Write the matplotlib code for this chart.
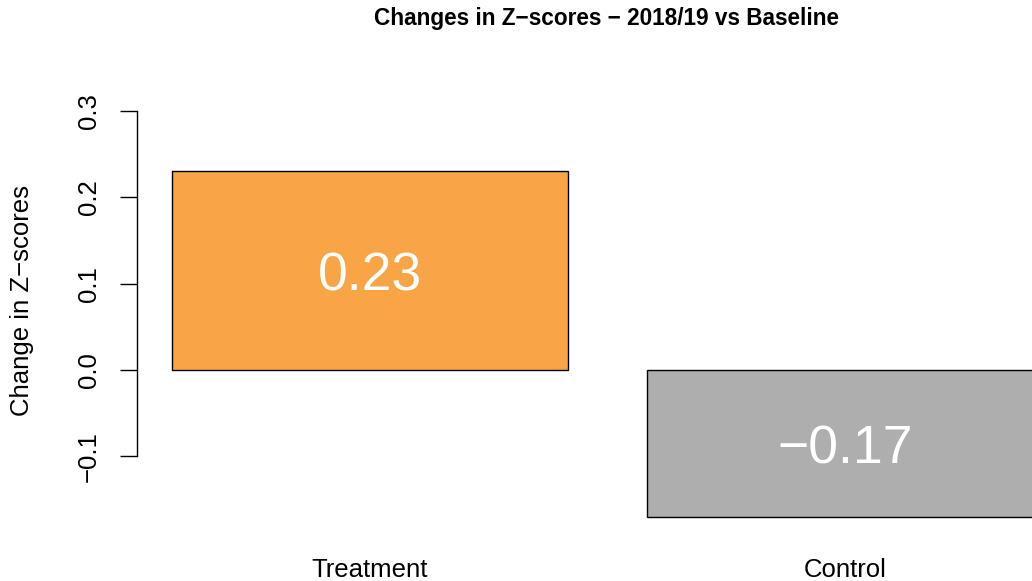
import numpy as np
import matplotlib
matplotlib.use("Agg")
import matplotlib.pyplot as plt
import matplotlib.transforms as mtransforms

# data
groups = ["Treatment", "Control"]
changes = [0.23, -0.17]
bar_colors = ["#F7A546", "#AEAEAE"]
yticks = [-0.1, 0.0, 0.1, 0.2, 0.3]

plt.rcParams['font.family'] = ['Liberation Sans', 'DejaVu Sans']

W, H = 1032, 581
fig = plt.figure(figsize=(W / 100, H / 100), dpi=100)

# plot region in pixels (R style: extends past the right edge)
px_left, px_right = 137, 1078
px_top, px_bot = 70, 540
ax = fig.add_axes([px_left / W, 1 - px_bot / H,
                   (px_right - px_left) / W, (px_bot - px_top) / H])
ax.patch.set_visible(False)

# bar positions like R barplot: width 1, space 0.2
pos = np.array([0.2 + 0.5 + i * 1.2 for i in range(len(groups))])
ax.bar(pos, changes, width=1.0, color=bar_colors, edgecolor="black",
       linewidth=1.0, clip_on=False)

# value labels, nudged down so the digits sit at the bar middle
nudge = ax.transData + mtransforms.ScaledTranslation(0, -6 / 100, fig.dpi_scale_trans)
for x, v in zip(pos, changes):
    ax.text(x, v / 2, f"{v:.2f}".replace("-", "\u2212"), color="white",
            fontsize=38.5, ha="center", va="center", transform=nudge)

ax.set_xlim(0.112, 2.488)
ax.set_ylim((370 - px_bot) / 863.3, (370 - px_top) / 863.3)

for s in ["top", "right", "bottom"]:
    ax.spines[s].set_visible(False)
ax.spines["left"].set_bounds(yticks[0], yticks[-1])
ax.spines["left"].set_linewidth(1.0)
ax.set_yticks(yticks)
ax.set_yticklabels([f"{t:.1f}".replace("-", "\u2212") for t in yticks],
                   rotation=90, va="center", fontsize=18.5)
ax.tick_params(axis="y", length=12.2, width=1.0, pad=14)
ax.set_xticks([])

# category labels below the bars
lab_tr = mtransforms.blended_transform_factory(ax.transData, fig.transFigure)
for x, g in zip(pos, groups):
    ax.text(x, 1 - 570 / H, g, transform=lab_tr, fontsize=18.5,
            ha="center", va="center")

fig.text(22 / W, 1 - 300 / H, "Change in Z\u2212scores", rotation=90,
         fontsize=18.5, ha="center", va="center")
fig.text(607 / W, 1 - 19 / H,
         "Changes in Z\u2212scores \u2212 2018/19 vs Baseline",
         fontsize=16.3, fontweight="bold", ha="center", va="center")

fig.savefig("out.png", dpi=100)
